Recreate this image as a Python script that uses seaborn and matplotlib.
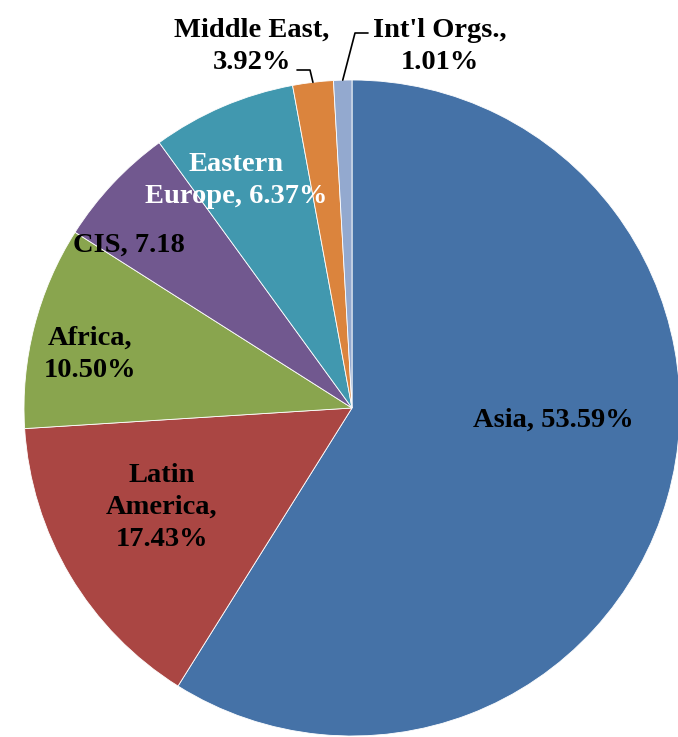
import numpy as np
import matplotlib
matplotlib.use("Agg")
import matplotlib.pyplot as plt
import seaborn as sns

# slice sizes as drawn (percent of circle), clockwise from 12 o'clock
regions = ["Asia", "Latin America", "Africa", "CIS", "Eastern Europe",
           "Middle East", "Int'l Orgs."]
shares = [58.9, 15.1, 10.0, 6.0, 7.1, 2.0, 0.9]
# label text printed on the chart
label_text = ["Asia, 53.59%", "Latin\nAmerica,\n17.43%", "Africa,\n10.50%",
              "CIS, 7.18", "Eastern\nEurope, 6.37%", "Middle East,\n3.92%",
              "Int'l Orgs.,\n1.01%"]
colors = ["#4572A7", "#AA4643", "#89A54E", "#71588F", "#4198AF",
          "#DB843D", "#93A9CF"]

sns.set_theme(style="white")
plt.rcParams['font.family'] = ['Liberation Serif', 'DejaVu Serif']

fig = plt.figure(figsize=(6.78, 7.37), dpi=100)
# pie centre at (352, 408) px, radius 328 px
cx, cy, R = 352, 408, 328
W, H = 678, 737
ax = fig.add_axes([(cx - R) / W, (H - cy - R) / H, 2 * R / W, 2 * R / H])

wedges, _ = ax.pie(shares, colors=colors, startangle=90, counterclock=False,
                   radius=1, wedgeprops=dict(edgecolor="white", linewidth=0.6))
ax.set_xlim(-1, 1)
ax.set_ylim(-1, 1)
ax.axis("off")


def to_data(px, py):
    return (px - cx) / R, (cy - py) / R


# label layout: centre x and first-line baseline y in pixels, line step
label_pos = [(553, 427), (162, 482), (90, 345), (129, 252), (236, 171),
             (252, 37), (440, 37)]
line_step = 32
text_colors = ["black", "black", "black", "black", "white", "black", "black"]

for txt, (px, py), tc in zip(label_text, label_pos, text_colors):
    for i, line in enumerate(txt.split("\n")):
        x, y = to_data(px, py + i * line_step)
        ax.text(x, y, line, ha="center", va="baseline", fontsize=20.5,
                fontweight="bold", color=tc, clip_on=False)

# leader lines for the two small slices
def edge_point(w):
    ang = np.deg2rad((w.theta1 + w.theta2) / 2)
    return np.cos(ang), np.sin(ang)

ex, ey = edge_point(wedges[5])
x0, y0 = to_data(297, 70)
x1, y1 = to_data(310, 70)
ax.plot([x0, x1, ex], [y0, y1, ey], color="black", lw=1.2, clip_on=False)

ex, ey = edge_point(wedges[6])
x0, y0 = to_data(368, 33)
x1, y1 = to_data(355, 33)
ax.plot([x0, x1, ex], [y0, y1, ey], color="black", lw=1.2, clip_on=False)

fig.savefig("out.png", dpi=100)
